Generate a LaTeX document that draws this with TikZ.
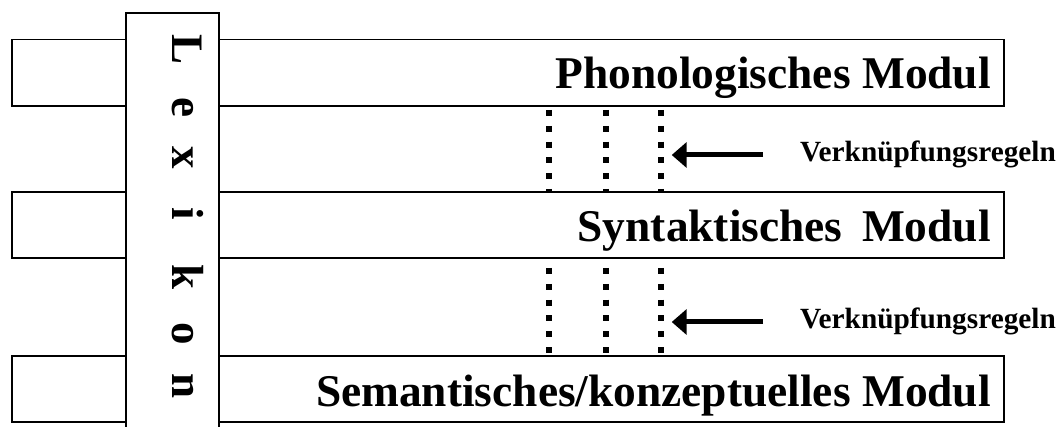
\documentclass[tikz,border=0pt]{standalone}
\usepackage{fontspec}
\setmainfont{Liberation Serif}
\usetikzlibrary{arrows.meta}
\begin{document}
\begin{tikzpicture}[x=1pt,y=-1pt,
  box/.style={draw,line width=1.8pt,rectangle,inner sep=0pt},
  modtext/.style={font=\fontsize{45.4}{50}\selectfont\bfseries,inner sep=0pt,anchor=base east},
  ruletext/.style={font=\fontsize{29.3}{34}\selectfont\bfseries,inner sep=0pt,anchor=base west},
  lexletter/.style={font=\fontsize{45}{48}\selectfont\bfseries,inner sep=0pt,rotate=-90,anchor=base},
  dotline/.style={line width=6pt,dash pattern=on 6pt off 9.8pt},
  arr/.style={line width=5pt,-{Triangle[length=15pt,width=25pt]}}]
\useasboundingbox (0,0) rectangle (1062,427);
\clip (0,0) rectangle (1062,427);
% dotted link lines
\foreach \i/\x in {1/549.3,2/605.7,3/661.3}{
  \coordinate (a\i) at (\x,110);
  \coordinate (b\i) at (\x,191.7);
  \coordinate (c\i) at (\x,268);
  \coordinate (d\i) at (\x,356);
  \draw[dotline] (a\i) -- (b\i);
  \draw[dotline] (c\i) -- (d\i);
}
% modules
\node[box,minimum width=992.3pt,minimum height=66.5pt] (phon) at (507.85,72.75) {};
\node[box,minimum width=992.3pt,minimum height=66.3pt] (synt) at (507.85,224.85) {};
\node[box,minimum width=992.3pt,minimum height=66pt] (sem) at (507.85,389) {};
\node[modtext] (phont) at (991,89) {Phonologisches Modul};
\node[modtext] (syntt) at (991,242) {Syntaktisches\hspace{0.43em}Modul};
\node[modtext] (semt) at (991,406) {Semantisches/konzeptuelles Modul};
% lexikon
\node[box,fill=white,minimum width=93pt,minimum height=432.3pt] (lex) at (172.5,228.85) {};
\foreach \n/\c/\y in {1/L/49.5,2/e/107.5,3/x/157.5,4/i/214,5/k/277,6/o/334,7/n/386.5}{
  \node[lexletter] (lx\n) at (172,\y) {\c};
}
% rules
\node[ruletext] (r1) at (800,162) {Verknüpfungsregeln};
\node[ruletext] (r2) at (800,329) {Verknüpfungsregeln};
\coordinate (t1) at (763,155);
\coordinate (h1) at (671.7,155);
\coordinate (t2) at (763,322);
\coordinate (h2) at (671.7,322);
\draw[arr] (t1) -- (h1);
\draw[arr] (t2) -- (h2);
\end{tikzpicture}
\end{document}
